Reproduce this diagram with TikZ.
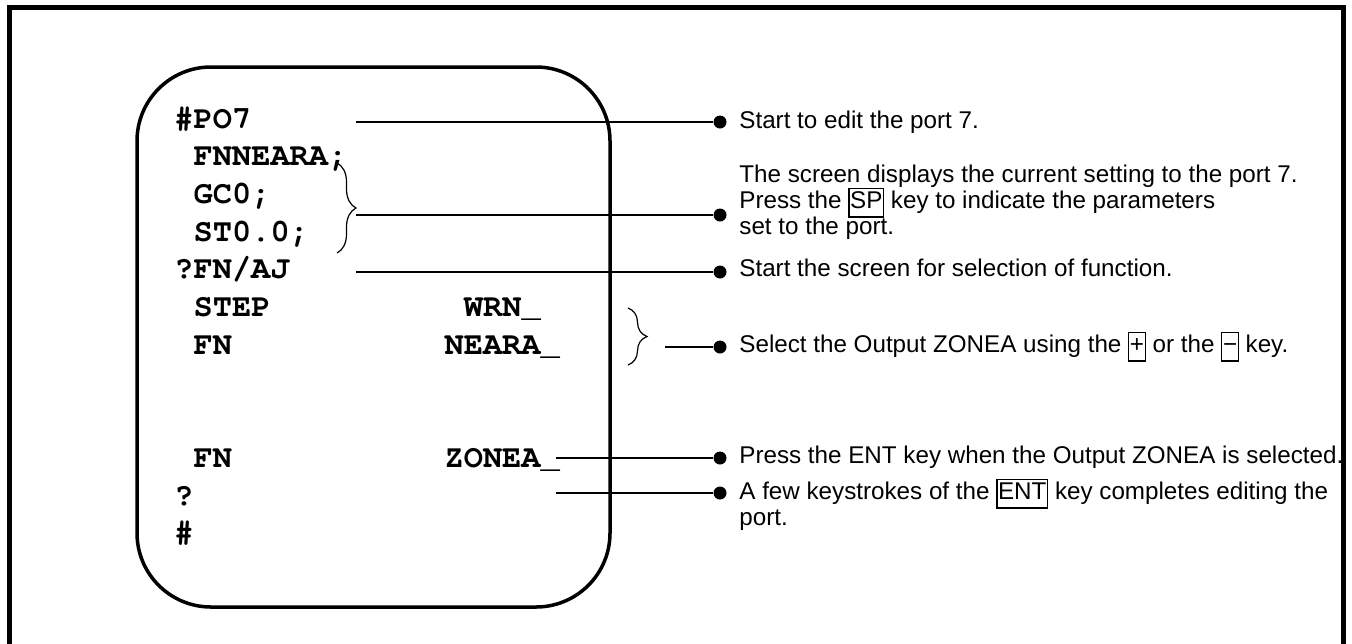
\documentclass[tikz,border=0pt]{standalone}
\usepackage{fontspec}
\setmainfont{Liberation Sans}
\setmonofont{TeX Gyre Cursor}
\usepackage{tikz}
\usetikzlibrary{decorations.pathreplacing}
\newcommand{\keycap}[1]{{\setlength{\fboxsep}{0.3pt}\setlength{\fboxrule}{0.6pt}\fbox{\strut#1}}}

\begin{document}
\begin{tikzpicture}[x=0.5pt, y=-0.5pt,
    lcd/.style={font=\ttfamily\bfseries\fontsize{16}{18}\selectfont, anchor=base west, inner sep=0pt},
    note/.style={font=\fontsize{12.1}{13}\selectfont, anchor=base west, inner sep=0pt},
    dot/.style={circle, fill, inner sep=0pt, minimum size=6.5pt},
    conn/.style={line width=0.7pt},
    curly/.style={decorate, decoration={brace, amplitude=9.5pt}, line width=0.6pt}]
    \useasboundingbox (0,0) rectangle (1352,643);

    % Outer frame (open at the bottom)
    \draw[line width=2.5pt] (9.5,650) |- (1343.5,7.5) -- (1343.5,650);

    % Display panel
    \draw[line width=1.75pt, rounded corners=37pt] (137,67) rectangle (610,607);

    % Display lines
    \node[lcd] (po7) at (174,128) {\#PO7};
    \node[lcd] (fnneara) at (193.3,165.7) {FNNEARA;};
    \node[lcd] (gc0) at (193.3,203.4) {GC0;};
    \node[lcd] (st0) at (193.3,241.1) {ST0.0;};
    \node[lcd] (fnaj) at (174,278.8) {?FN/AJ};
    \node[lcd] (step) at (193.3,316.5) {STEP};
    \node[lcd] (wrn) at (463.5,316.5) {WRN\_};
    \node[lcd] (fn1) at (193.3,354.2) {FN};
    \node[lcd] (neara) at (444.2,354.2) {NEARA\_};
    \node[lcd] (fn2) at (193.3,467.3) {FN};
    \node[lcd] (zonea) at (444.2,467.3) {ZONEA\_};
    \node[lcd] (quest) at (174,505) {?};
    \node[lcd] (hash) at (174,542.7) {\#};

    % Braces
    \draw[curly] (337,163) -- (337,253);
    \draw[curly] (628,308) -- (628,365);

    % Dots
    \node[dot] (d1) at (720,122) {};
    \node[dot] (d2) at (720,215) {};
    \node[dot] (d3) at (720,272) {};
    \node[dot] (d4) at (720,347) {};
    \node[dot] (d5) at (720,458) {};
    \node[dot] (d6) at (720,493) {};

    % Leader lines
    \coordinate (s1) at (356,122);
    \coordinate (s2) at (356,215);
    \coordinate (s3) at (356,272);
    \coordinate (s4) at (665,347);
    \coordinate (s5) at (556,458);
    \coordinate (s6) at (556,493);
    \draw[conn] (s1) -- (d1);
    \draw[conn] (s2) -- (d2);
    \draw[conn] (s3) -- (d3);
    \draw[conn] (s4) -- (d4);
    \draw[conn] (s5) -- (d5);
    \draw[conn] (s6) -- (d6);

    % Notes
    \node[note] (n1) at (739,128) {Start to edit the port 7.};
    \node[note] (n2a) at (739,182) {The screen displays the current setting to the port 7.};
    \node[note] (n2b) at (739,208) {Press the \keycap{SP} key to indicate the parameters};
    \node[note] (n2c) at (739,234) {set to the port.};
    \node[note] (n3) at (739,276) {Start the screen for selection of function.};
    \node[note] (n4) at (739,352) {Select the Output ZONEA using the \keycap{+} or the \keycap{−} key.};
    \node[note] (n5) at (739,463) {Press the ENT key when the Output ZONEA is selected.};
    \node[note] (n6a) at (739,499) {A few keystrokes of the \keycap{ENT} key completes editing the};
    \node[note] (n6b) at (739,525) {port.};
\end{tikzpicture}
\end{document}
